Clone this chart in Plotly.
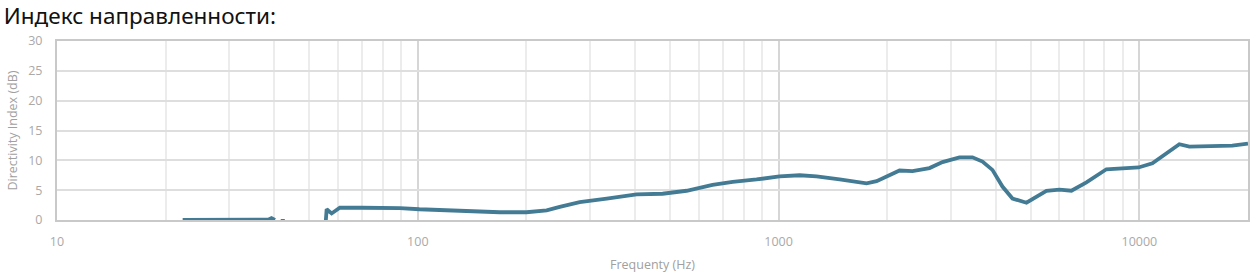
import plotly.graph_objects as go

title_text = "Индекс направленности:"
x_title = "Frequenty (Hz)"
y_title = "Directivity Index (dB)"

freq_hz = [22.3, 30, 38.5, 39.3, 40.2, 41.0, 41.7, 42.8, 50.0,
           55.6, 55.9, 57.7, 60.8, 70, 89.2, 101, 130.7, 168.7, 200, 227.6,
           247.4, 281, 334, 404, 477, 556, 656, 746, 869, 1006, 1144, 1274,
           1476, 1753, 1869, 2164, 2350, 2620, 2847, 3172, 3446, 3674, 3914,
           4173, 4448, 4864, 5526, 6003, 6480, 7132, 8101, 9947, 10865,
           11880, 12903, 13757, 18093, 20000]
di_db = [0, 0, 0.05, 0.3, 0, None, -0.15, -0.15, None,
         -0.1, 1.8, 1.1, 2.05, 2.05, 2.0, 1.8, 1.5, 1.3, 1.3, 1.6,
         2.2, 3.0, 3.6, 4.3, 4.4, 4.9, 5.9, 6.4, 6.8, 7.3, 7.5, 7.3,
         6.8, 6.15, 6.5, 8.3, 8.2, 8.7, 9.7, 10.5, 10.5, 9.8, 8.4,
         5.6, 3.6, 2.9, 4.9, 5.1, 4.9, 6.3, 8.5, 8.8, 9.5,
         11.2, 12.7, 12.3, 12.45, 12.8]

major_ticks = [10, 100, 1000, 10000]
major_labels = ["10", "100", "1000", "10000"]
minor_ticks = [m * d for d in (10, 100, 1000) for m in range(2, 10)] + [20000]
y_ticks = [0, 5, 10, 15, 20, 25, 30]

fig = go.Figure()
fig.add_trace(go.Scatter(
    x=freq_hz, y=di_db, mode="lines", connectgaps=False,
    line=dict(color="#437b94", width=3.8), hoverinfo="skip", showlegend=False,
))

tick_font = dict(family="Open Sans", size=12.5, color="#a9a9a9")
title_font = dict(family="Open Sans", size=12.5, color="#a0a0a0")

fig.update_layout(
    width=1256, height=278,
    margin=dict(l=57, r=6, t=41, b=58),
    paper_bgcolor="white", plot_bgcolor="white",
    title=dict(text=title_text, x=0.003, xref="container", xanchor="left",
               y=0.972, yref="container", yanchor="top",
               font=dict(family="Noto Sans", size=22.5, color="#111111")),
    xaxis=dict(
        type="log", range=[1, 4.30103],
        tickvals=major_ticks, ticktext=major_labels,
        showgrid=True, gridcolor="#d6d6d6", gridwidth=2,
        minor=dict(tickvals=minor_ticks, showgrid=True, gridcolor="#ececec", gridwidth=1.5),
        showline=True, linecolor="#c9c9c9", linewidth=2, mirror=True,
        ticks="outside", ticklen=9, tickcolor="rgba(0,0,0,0)",
        tickfont=tick_font, zeroline=False,
        title=dict(text=x_title, font=title_font, standoff=11),
    ),
    yaxis=dict(
        range=[0, 30], tickvals=y_ticks,
        showgrid=True, gridcolor="#dedede", gridwidth=2,
        showline=True, linecolor="#c9c9c9", linewidth=2, mirror=True,
        ticks="outside", ticklen=10, tickcolor="rgba(0,0,0,0)",
        tickfont=tick_font, zeroline=False,
        title=dict(text=y_title, font=title_font, standoff=8),
    ),
)

fig.write_html("out.html")
